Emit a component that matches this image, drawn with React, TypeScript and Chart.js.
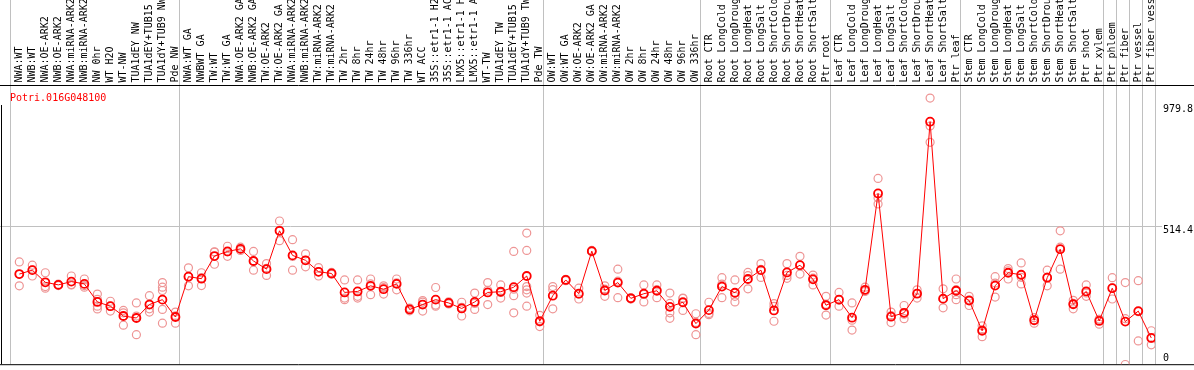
import React, { useEffect, useRef } from "react";
import { Chart, registerables } from "chart.js";

Chart.register(...registerables);

const TITLE = "Potri.016G048100";

const categories = [
  "NWA:WT", "NWB:WT", "NWA:OE-ARK2", "NWB:OE-ARK2", "NWA:miRNA-ARK2", "NWB:miRNA-ARK2",
  "NW 0hr", "WT H2O", "WT-NW", "TUA1dEY NW", "TUA1dEY+TUB15 NW", "TUA1dY+TUB9 NW", "Pde NW",
  "NWA:WT GA", "NWBWT GA", "TW:WT", "TW:WT GA", "NWA:OE-ARK2 GA", "NWB:OE-ARK2 GA",
  "TW:OE-ARK2", "TW:OE-ARK2 GA", "NWA:miRNA-ARK2", "NWB:miRNA-ARK2", "TW:miRNA-ARK2",
  "TW:miRNA-ARK2", "TW 2hr", "TW 8hr", "TW 24hr", "TW 48hr", "TW 96hr", "TW 336hr",
  "WT ACC", "35S::etr1-1 H2O", "35S::etr1-1 ACC", "LMX5::etr1-1 H2O", "LMX5::etr1-1 ACC",
  "WT-TW", "TUA1dEY TW", "TUA1dEY+TUB15 TW", "TUA1dY+TUB9 TW", "Pde TW",
  "OW:WT", "OW:WT GA", "OW:OE-ARK2", "OW:OE-ARK2 GA", "OW:miRNA-ARK2", "OW:miRNA-ARK2",
  "OW 2hr", "OW 8hr", "OW 24hr", "OW 48hr", "OW 96hr", "OW 336hr",
  "Root CTR", "Root LongCold", "Root LongDrought", "Root LongHeat", "Root LongSalt",
  "Root ShortCold", "Root ShortDrought", "Root ShortHeat", "Root ShortSalt", "Ptr root",
  "Leaf CTR", "Leaf LongCold", "Leaf LongDrought", "Leaf LongHeat", "Leaf LongSalt",
  "Leaf ShortCold", "Leaf ShortDrought", "Leaf ShortHeat", "Leaf ShortSalt", "Ptr leaf",
  "Stem CTR", "Stem LongCold", "Stem LongDrought", "Stem LongHeat", "Stem LongSalt",
  "Stem ShortCold", "Stem ShortDrought", "Stem ShortHeat", "Stem ShortSalt", "Ptr shoot",
  "Ptr xylem", "Ptr phloem", "Ptr fiber", "Ptr vessel", "Ptr fiber vessel",
];

const means = [
  339.0, 353.3, 309.0, 299.6, 311.5, 303.2, 237.4, 222.0, 186.2, 179.0, 228.0, 245.9, 182.6,
  329.4, 322.2, 404.5, 421.4, 430.7, 386.6, 356.9, 496.5, 407.0, 389.1, 347.3, 341.2,
  272.1, 275.7, 296.1, 283.9, 303.2, 210.1, 228.0, 245.9, 233.8, 213.7, 237.4, 272.1,
  274.6, 291.1, 331.9, 167.2,
  260.3, 317.5, 267.4, 422.4, 279.2, 307.9, 250.6, 267.4, 278.2, 219.5, 236.3, 158.6,
  207.6, 293.6, 271.0, 321.1, 353.3, 206.6, 344.8, 371.2, 319.7, 225.5,
  245.9, 180.1, 281.7, 632.6, 183.7, 198.0, 267.4, 893.9, 249.5, 278.2,
  242.4, 132.5, 297.1, 343.7, 336.5, 170.8, 325.8, 429.6, 229.1, 275.7, 168.3,
  287.5, 165.8, 204.1, 106.3,
];

const replicates = [
  [383.1, 296.1, 338.0], [371.2, 331.9, 354.4], [343.7, 287.5, 293.6], [302.0, 297.0, 300.0],
  [331.9, 299.6, 300.7], [321.1, 291.1, 297.0], [266.0, 247.0, 222.0, 212.0], [239.9, 204.1, 222.0],
  [206.6, 152.9, 198.0], [233.8, 118.1, 186.0], [260.3, 200.5, 212.3],
  [307.9, 279.2, 291.1, 210.1, 160.0], [200.5, 160.0, 187.0],
  [361.6, 296.1, 330.0], [343.7, 297.1, 326.0], [418.9, 374.8, 420.0], [440.3, 403.5, 420.0],
  [436.8, 425.0, 430.0], [421.4, 353.3, 385.0], [377.0, 334.0, 360.0], [532.3, 460.7, 496.0],
  [464.3, 353.3, 403.0], [412.8, 365.2, 389.0], [362.7, 331.9, 347.0], [345.0, 338.0, 341.0],
  [317.5, 245.9, 251.7], [317.5, 251.7, 257.8], [321.1, 263.8, 303.0], [296.1, 266.0, 290.0],
  [321.1, 281.7, 307.0], [215.0, 205.0, 210.0], [242.4, 204.1, 237.0], [290.0, 222.0, 226.0],
  [238.0, 230.0, 233.0], [236.3, 186.2, 218.0], [269.6, 210.1, 232.0], [307.9, 228.0, 280.0],
  [299.6, 251.7, 272.0], [421.4, 260.3, 198.0, 284.0],
  [488.4, 425.0, 293.6, 281.7, 269.6, 222.0], [188.7, 147.9, 165.0],
  [293.6, 282.0, 212.3], [320.0, 315.0, 318.0], [287.5, 248.1, 266.0], [425.0, 420.0, 422.0],
  [296.1, 257.8, 284.0], [356.9, 253.1, 313.0], [253.0, 248.0, 251.0], [299.6, 237.4, 265.0],
  [299.6, 253.1, 282.0], [269.6, 177.9, 198.0, 232.0], [251.7, 206.6, 250.0], [194.4, 118.1, 163.0],
  [236.3, 195.8, 191.0], [325.8, 253.1, 302.0], [317.5, 237.4, 258.0], [344.8, 285.3, 333.0],
  [377.0, 326.9, 356.0], [231.6, 167.2, 221.0], [377.0, 323.3, 334.0], [403.5, 339.0, 371.0],
  [335.4, 299.6, 324.0], [257.8, 189.7, 229.0],
  [272.1, 222.0, 244.0], [233.8, 135.0, 171.0], [291.1, 275.7, 278.0], [687.4, 594.3, 616.0],
  [200.5, 162.2, 188.0], [224.5, 176.5, 193.0], [281.7, 251.7, 269.0], [979.8, 818.7, 878.2],
  [285.3, 215.9, 247.0], [321.1, 245.9, 263.8, 282.0],
  [257.8, 224.5, 245.0], [150.4, 111.0, 136.0], [329.4, 255.3, 306.0], [359.1, 321.1, 351.0],
  [379.5, 303.2, 327.0], [180.1, 160.0, 172.0], [353.3, 296.1, 328.0], [496.5, 436.8, 356.9],
  [243.4, 212.3, 232.0], [299.6, 257.8, 270.0], [174.3, 156.4, 174.0],
  [325.8, 248.1, 289.0], [307.9, 9.7, 176.5], [315.0, 95.6, 202.0], [132.5, 81.3, 105.0],
];

// index where each sample group begins (separator lines)
const groupStarts = [0, 13, 41, 53, 63, 73, 84, 85, 86, 87, 88];
const yTickValues = [979.8, 514.4, 0];
const yGridValues = [514.4];

const X_OFFSET = 0.715;
const Y_MIN = 10.74;
const Y_MAX = 1027.5;
const FONT = '10px "DejaVu Sans Mono", "Liberation Mono", monospace';

const decorPlugin = {
  id: "decor",
  beforeDatasetsDraw(chart: any) {
    const { ctx, chartArea: a, scales } = chart;
    const xs = scales.x;
    const ys = scales.y;
    ctx.save();
    ctx.lineWidth = 1;
    ctx.strokeStyle = "#c0c0c0";
    for (const g of groupStarts) {
      const px = Math.round(xs.getPixelForValue(g)) + 0.5;
      ctx.beginPath();
      ctx.moveTo(px, 0);
      ctx.lineTo(px, a.bottom);
      ctx.stroke();
    }
    for (const v of yGridValues) {
      const py = Math.round(ys.getPixelForValue(v)) + 0.5;
      ctx.beginPath();
      ctx.moveTo(0, py);
      ctx.lineTo(a.right + 7, py);
      ctx.stroke();
    }
    ctx.strokeStyle = "#000";
    ctx.beginPath();
    ctx.moveTo(0, a.top + 0.5);
    ctx.lineTo(chart.width, a.top + 0.5);
    ctx.moveTo(0, a.bottom + 0.5);
    ctx.lineTo(chart.width, a.bottom + 0.5);
    ctx.moveTo(1.5, a.top + 20);
    ctx.lineTo(1.5, a.bottom);
    ctx.stroke();

    // rotated category labels
    ctx.font = FONT;
    ctx.fillStyle = "#000";
    ctx.textAlign = "left";
    ctx.textBaseline = "alphabetic";
    categories.forEach((c, i) => {
      const px = xs.getPixelForValue(i + X_OFFSET);
      ctx.save();
      ctx.translate(Math.round(px + 2.6), a.top - 2.5);
      ctx.rotate(-Math.PI / 2);
      ctx.fillText(c, 0, 0);
      ctx.restore();
    });

    // y labels on the right
    ctx.fillStyle = "#000";
    for (const v of yTickValues) {
      const py = ys.getPixelForValue(v);
      const base = Math.min(Math.max(py + 7.3, a.top + 26.5), a.bottom - 3.5);
      ctx.fillText(String(v), a.right + 8, base);
    }

    // title
    ctx.fillStyle = "#ff0000";
    ctx.fillText(TITLE, a.left, a.top + 15.5);
    ctx.restore();
  },
};

export default function App() {
  const ref = useRef<HTMLCanvasElement>(null);

  useEffect(() => {
    document.body.style.margin = "0";
    const canvas = ref.current;
    if (!canvas) return;
    const meanData = means.map((v, i) => ({ x: i + X_OFFSET, y: v }));
    const repData: { x: number; y: number }[] = [];
    replicates.forEach((arr, i) => arr.forEach((v) => repData.push({ x: i + X_OFFSET, y: v })));

    const chart = new Chart(canvas, {
      type: "scatter",
      data: {
        datasets: [
          {
            label: "mean",
            data: meanData,
            showLine: true,
            borderColor: "#ff0000",
            borderWidth: 1,
            pointRadius: 4,
            pointBorderWidth: 1.8,
            pointBorderColor: "#ff0000",
            pointBackgroundColor: "rgba(0,0,0,0)",
            order: 0,
          } as any,
          {
            label: "replicates",
            data: repData,
            showLine: false,
            pointRadius: 4,
            pointBorderWidth: 1.2,
            pointBorderColor: "#ee9595",
            pointBackgroundColor: "rgba(0,0,0,0)",
            order: 1,
          } as any,
        ],
      },
      options: {
        responsive: false,
        animation: false,
        layout: { padding: { left: 10, right: 39, top: 85, bottom: 1 } },
        plugins: { legend: { display: false }, tooltip: { enabled: false } },
        scales: {
          x: { type: "linear", min: 0, max: 88, display: false },
          y: { type: "linear", min: Y_MIN, max: Y_MAX, display: false },
        },
      },
      plugins: [decorPlugin],
    });
    return () => chart.destroy();
  }, []);

  return <canvas ref={ref} width={1194} height={370} style={{ display: "block" }} />;
}
